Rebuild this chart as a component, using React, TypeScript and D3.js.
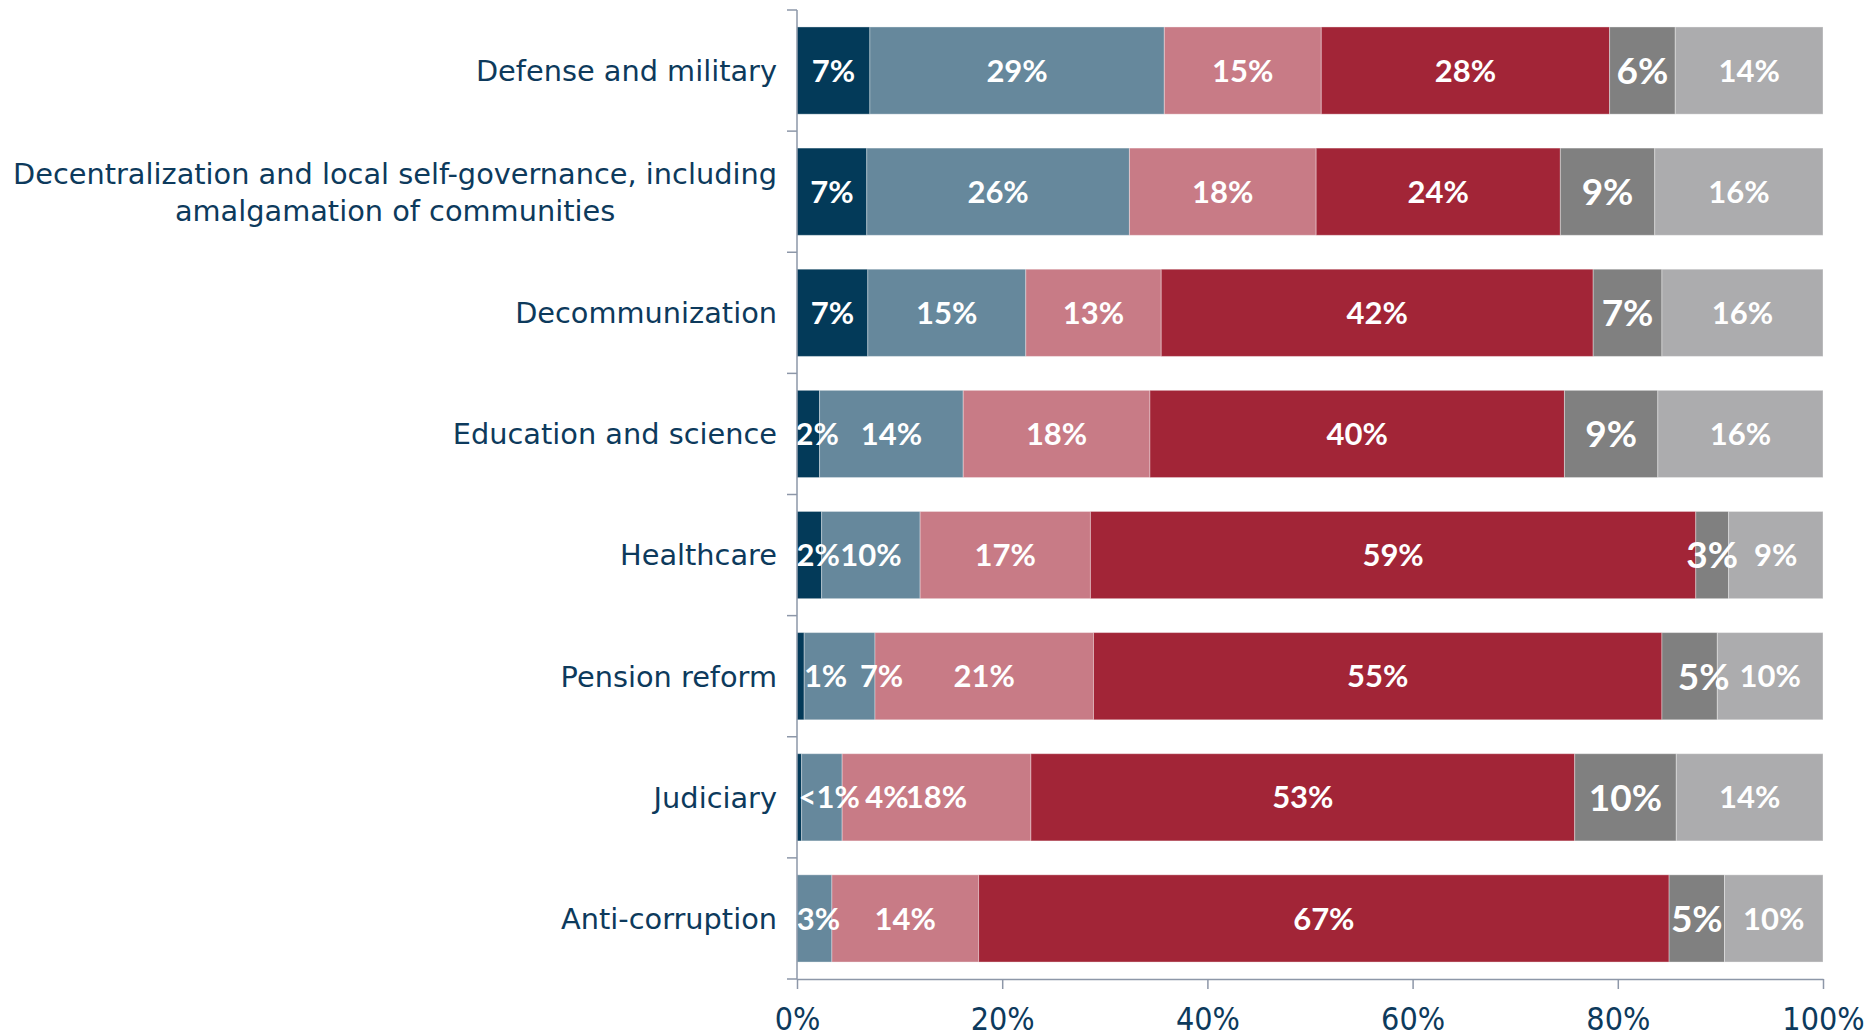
import React, { useEffect, useRef } from 'react'
import * as d3 from 'd3'

// categories, top to bottom
const categories = [
  'Defense and military',
  'Decentralization and local self-governance, including\namalgamation of communities',
  'Decommunization',
  'Education and science',
  'Healthcare',
  'Pension reform',
  'Judiciary',
  'Anti-corruption',
]

// share of respondents per answer, %
const answer1 = [7.1, 6.8, 6.9, 2.2, 2.4, 0.7, 0.45, 0]
const answer2 = [28.7, 25.6, 15.4, 14.0, 9.6, 6.9, 3.95, 3.4]
const answer3 = [15.3, 18.2, 13.2, 18.2, 16.6, 21.3, 18.4, 14.3]
const answer4 = [28.1, 23.8, 42.1, 40.4, 59.0, 55.4, 53.0, 67.3]
const answer5 = [6.4, 9.2, 6.7, 9.1, 3.2, 5.4, 9.9, 5.4]
const answer6 = [14.4, 16.4, 15.7, 16.1, 9.2, 10.3, 14.3, 9.6]

const xTicks = [0, 20, 40, 60, 80, 100]

const series = [answer1, answer2, answer3, answer4, answer5, answer6]
const colors = ['#033a59', '#66889c', '#c87b86', '#a22537', '#808080', '#acacae']

// hand-moved labels in the original (px)
const labelNudge: Record<string, number> = {
  '3-0': 9,
  '4-0': 9,
  '5-0': 25,
  '5-1': 42,
  '5-4': 14,
  '6-0': 30,
  '6-1': 65,
  '7-1': 4,
}

const W = 1876
const H = 1036
const margin = { top: 10, right: 53, bottom: 56, left: 797 }
const ink = '#0d3a5c'
const axisColor = '#8d97a8'
const catFont = '"DejaVu Sans", sans-serif'
const tickFont = '"DejaVu Sans Condensed", "DejaVu Sans", sans-serif'
const valFont = 'Lato, "Open Sans", sans-serif'

export default function App() {
  const svgRef = useRef<SVGSVGElement>(null)

  useEffect(() => {
    if (!svgRef.current) return
    const svg = d3.select(svgRef.current)
    svg.selectAll('*').remove()

    const x = d3.scaleLinear().domain([0, 100]).range([margin.left, W - margin.right])
    const y = d3
      .scaleBand()
      .domain(categories)
      .range([margin.top, H - margin.bottom - 1])
      .paddingInner(0.28)
      .paddingOuter(0.14)

    const rows = categories.map((c, i) => {
      let acc = 0
      return series.map((s, k) => {
        const seg = { cat: c, row: i, k, x0: acc, x1: acc + s[i], v: s[i] }
        acc += s[i]
        return seg
      })
    })

    // bars
    const g = svg.append('g')
    rows.flat().forEach(d => {
      if (d.v <= 0) return
      g.append('rect')
        .attr('x', x(d.x0))
        .attr('y', y(d.cat)!)
        .attr('width', x(d.x1) - x(d.x0))
        .attr('height', y.bandwidth())
        .attr('fill', colors[d.k])
        .attr('stroke', 'rgba(255,255,255,0.35)')
        .attr('stroke-width', 1)
    })

    // value labels
    rows.flat().forEach(d => {
      if (d.v <= 0) return
      const r = Math.round(d.v)
      const txt = r === 0 ? '<1%' : `${r}%`
      const big = d.k === 4
      const fs = big ? 37 : 31
      const cx = (x(d.x0) + x(d.x1)) / 2 + (labelNudge[`${d.row}-${d.k}`] || 0)
      g.append('text')
        .attr('x', cx)
        .attr('y', y(d.cat)! + y.bandwidth() / 2 + fs * 0.36)
        .attr('text-anchor', 'middle')
        .attr('fill', '#ffffff')
        .style('font-family', valFont)
        .style('font-weight', 700)
        .style('font-size', `${fs}px`)
        .text(txt)
    })

    // y axis: line + ticks between categories
    const step = y.step()
    const yAxis = svg.append('g')
    const y0 = margin.top
    const y1 = H - margin.bottom - 1
    yAxis.append('line')
      .attr('x1', margin.left).attr('x2', margin.left)
      .attr('y1', y0).attr('y2', y1)
      .attr('stroke', axisColor).attr('stroke-width', 1.5)
    d3.range(categories.length + 1).forEach(i => {
      const ty = y0 + i * step
      yAxis.append('line')
        .attr('x1', margin.left - 10).attr('x2', margin.left)
        .attr('y1', ty).attr('y2', ty)
        .attr('stroke', axisColor).attr('stroke-width', 1.5)
    })

    // category labels
    categories.forEach(c => {
      const lines = c.split('\n')
      const lh = 37
      const fs = 28.8
      const cy = y(c)! + y.bandwidth() / 2
      const t = svg.append('text')
        .attr('fill', ink)
        .style('font-family', catFont)
        .style('font-size', `${fs}px`)
      lines.forEach((ln, j) => {
        t.append('tspan')
          .attr('y', cy + (j - (lines.length - 1) / 2) * lh + fs * 0.36)
          .text(ln)
      })
      const tsp = t.selectAll<SVGTSpanElement, unknown>('tspan').nodes()
      const widths = tsp.map(n => n.getComputedTextLength())
      const maxW = d3.max(widths) || 0
      const right = margin.left - 20
      t.selectAll('tspan')
        .attr('x', right - maxW / 2)
        .attr('text-anchor', 'middle')
    })

    // x axis
    const xAxis = svg.append('g')
      .attr('transform', `translate(0,${y1})`)
      .call(
        d3.axisBottom(x)
          .tickValues(xTicks)
          .tickSize(10)
          .tickSizeOuter(0)
          .tickPadding(18)
          .tickFormat(d => `${d}%`)
      )
    xAxis.select('.domain').attr('stroke', axisColor).attr('stroke-width', 1.5)
    xAxis.selectAll('line').attr('stroke', axisColor).attr('stroke-width', 1.5)
    xAxis.selectAll('text')
      .attr('fill', ink)
      .style('font-family', tickFont)
      .style('font-size', '32px')
  }, [])

  return (
    <svg
      ref={svgRef}
      width={W}
      height={H}
      style={{ position: 'absolute', left: 0, top: 0, background: '#fff' }}
    />
  )
}
